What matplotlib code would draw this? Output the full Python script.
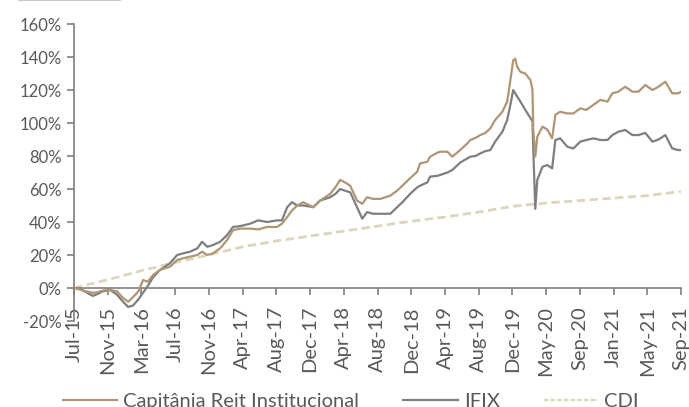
import matplotlib
matplotlib.use("Agg")
import matplotlib.pyplot as plt
from matplotlib.lines import Line2D
import numpy as np

plt.rcParams['font.family'] = ['Lato', 'DejaVu Sans']

# Trading session number (since Jul-2015) and cumulative returns (%)
sessions = [0, 15, 30, 47, 60, 72, 90, 107, 122, 135, 147, 160, 172, 184, 197, 214,
            227, 239, 257, 272, 289, 307, 319, 332, 346, 364, 381, 396, 414, 439,
            459, 481, 506, 518, 531, 543, 556, 571, 596, 613, 638, 651, 663, 675,
            688, 705, 718, 730, 745, 763, 788, 805, 818, 837, 855, 862, 880, 887,
            905, 912, 930, 942, 962, 980, 987, 1000, 1012, 1025, 1037, 1049, 1067,
            1079, 1087, 1094, 1099, 1104, 1112, 1124, 1137, 1142, 1144, 1149, 1154,
            1167, 1179, 1191, 1199, 1211, 1229, 1244, 1261, 1276, 1294, 1311, 1329,
            1341, 1356, 1373, 1391, 1406, 1423, 1441, 1456, 1473, 1490, 1505, 1512]

capitania = [0, -1, -2, -3, -2.5, -1.5, -1.2, -2, -6, -8.3, -5.5, -2.2, 4.8, 3.8, 7.9, 10.9,
             12, 12.9, 17, 18, 19, 20, 22, 20, 21, 24, 29, 35, 36, 36,
             35.5, 37, 37, 39, 43, 47, 50, 52, 49, 53, 57, 61, 65.5, 64,
             62, 53, 51, 55, 54, 54, 56, 59, 62, 66.5, 70.5, 75.5, 76.5, 79.6,
             82, 82.6, 82.6, 79.6, 83.6, 87.7, 89.7, 91, 92.7, 94, 96.8, 101.8, 106.8,
             113, 126, 138, 139, 134, 131, 130, 126, 120, 96, 79.6, 91.7,
             97.8, 96, 90.7, 105, 106.8, 105.8, 105.8, 108.9, 107.9, 111, 114, 113,
             118, 119, 122, 119, 119, 123, 120, 122, 125, 118, 118, 119]

ifix = [0, -0.5, -2.5, -4.8, -3.5, -2, -1.2, -4, -8.3, -11.5, -10.6, -7, -2.8, 1.3, 6.5, 10.9,
        13, 15, 20, 21, 22, 24, 28, 25, 26, 28, 32, 37, 37.5, 39,
        41, 40, 41, 41, 49, 52, 50, 50, 49, 53, 55, 57, 60, 59,
        58, 49, 42, 46, 45, 45, 45, 49, 52, 57, 61, 62, 64, 67.5,
        68, 68.5, 70, 71.5, 76, 78.6, 79.6, 80, 81.6, 83, 83.6, 88.7, 94.7,
        101.8, 111, 120, 118, 116, 113, 108, 103, 101, 84, 48, 65.5,
        73.5, 74.5, 72.5, 89.7, 90.7, 85.6, 84.6, 88.7, 89.7, 90.7, 89.7, 89.7,
        92.7, 94.7, 95.8, 92.7, 92.7, 94, 88.7, 90, 92.7, 84.6, 83.6, 83.6]

# CDI accumulated at each labelled date
tick_labels = ["Jul-15", "Nov-15", "Mar-16", "Jul-16", "Nov-16", "Apr-17", "Aug-17",
               "Dec-17", "Apr-18", "Aug-18", "Dec-18", "Apr-19", "Aug-19", "Dec-19",
               "May-20", "Sep-20", "Jan-21", "May-21", "Sep-21"]
cdi = [0, 5, 10.5, 15.5, 20, 25, 28.5, 31.5, 34.5, 37.5, 40.5, 43, 46, 49.5,
       51.5, 53, 54.5, 56, 58.5]

SESSIONS_PER_TICK = 84
tick_pos = np.arange(len(tick_labels)) * SESSIONS_PER_TICK

c_cap = "#AE9677"
c_ifix = "#7F7F7F"
c_cdi = "#DDD6BE"
c_axis = "#7F7F7F"
c_text = "#595959"

fig = plt.figure(figsize=(6.89, 4.07), dpi=100)
ax = fig.add_axes([0.1074, 0.2113, 0.8810, 0.7297])

ax.plot(tick_pos, cdi, color=c_cdi, lw=2.0, dashes=(3.0, 1.6), label="CDI", zorder=1)
ax.plot(sessions, ifix, color=c_ifix, lw=1.6, label="IFIX", zorder=2)
ax.plot(sessions, capitania, color=c_cap, lw=1.6, label="Capitânia Reit Institucional", zorder=3)

for s in ("top", "right"):
    ax.spines[s].set_visible(False)
ax.spines["bottom"].set_position(("data", 0))
for s in ("bottom", "left"):
    ax.spines[s].set_color(c_axis)
    ax.spines[s].set_linewidth(1.2)

ax.set_xlim(0, tick_pos[-1])
ax.set_ylim(-20, 160)
ax.set_yticks(np.arange(-20, 161, 20))
ax.set_yticklabels([f"{v}%" for v in range(-20, 161, 20)])
ax.set_xticks(tick_pos)
ax.set_xticklabels(tick_labels)

ax.tick_params(axis="both", direction="out", length=5, width=1.2, color=c_axis,
               labelcolor=c_text, labelsize=12)
ax.tick_params(axis="x", pad=8, labelrotation=90, labelsize=14.5)
ax.tick_params(axis="y", pad=4)

handles = [Line2D([], [], color=c_cap, lw=1.6),
           Line2D([], [], color=c_ifix, lw=1.6),
           Line2D([], [], color=c_cdi, lw=1.6, dashes=(2.0, 1.0))]
fig.legend(handles, ["Capitânia Reit Institucional", "IFIX", "CDI"],
           loc="center", bbox_to_anchor=(0.509, 0.014), ncol=3, frameon=False,
           fontsize=14.5, labelcolor=c_text, handlelength=2.7, handletextpad=0.3,
           columnspacing=2.2)

fig.add_artist(Line2D([0.028, 0.174], [0.999, 0.999], transform=fig.transFigure,
                      color="#BFBFBF", lw=1.2))

fig.savefig("out.png", dpi=100)
